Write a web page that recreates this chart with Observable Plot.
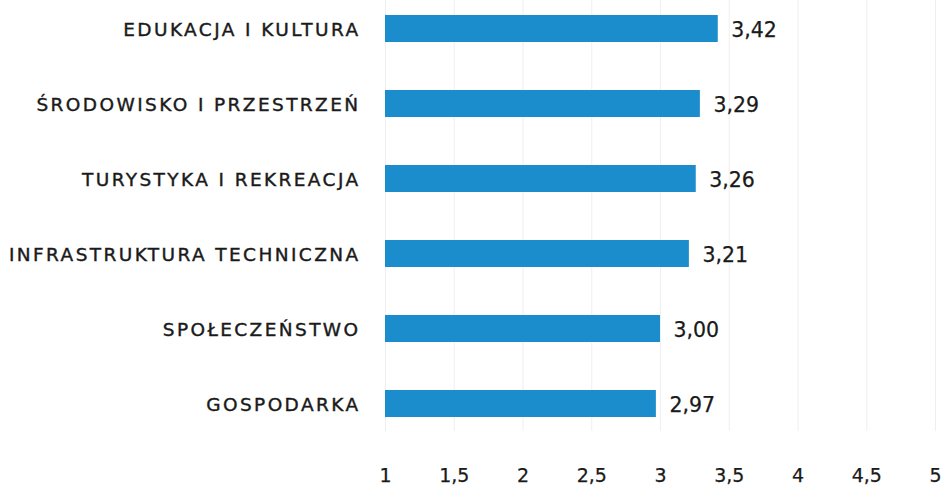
<!DOCTYPE html>
<html><head><meta charset="utf-8">
<script src="https://cdn.jsdelivr.net/npm/d3@7"></script>
<script src="https://cdn.jsdelivr.net/npm/@observablehq/plot@0.6"></script>
<style>
body{margin:0;background:#fff}
g[aria-label="y-axis tick label"] text{letter-spacing:2.4px;stroke:#1a1a1a;stroke-width:0.4px}
g[aria-label="x-axis tick label"] text, g[aria-label="text"] text{stroke:#1a1a1a;stroke-width:0.25px}
</style>
</head><body><div id="chart"></div>
<script>
const categories = ["EDUKACJA I KULTURA","ŚRODOWISKO I PRZESTRZEŃ","TURYSTYKA I REKREACJA","INFRASTRUKTURA TECHNICZNA","SPOŁECZEŃSTWO","GOSPODARKA"];
const values = [3.42, 3.29, 3.26, 3.21, 3.00, 2.97];
const ticks = [1, 1.5, 2, 2.5, 3, 3.5, 4, 4.5, 5];
const data = categories.map((c, i) => ({category: c, value: values[i]}));
const fmt = v => v.toFixed(2).replace(".", ",");
const fmtTick = v => String(v).replace(".", ",");
const chart = Plot.plot({
  width: 948, height: 486,
  marginLeft: 385, marginRight: 13, marginTop: 0, marginBottom: 55,
  style: {fontFamily: "'DejaVu Sans', sans-serif", background: "#fff"},
  x: {domain: [1, 5], ticks: ticks, label: null},
  y: {domain: categories, paddingInner: 0.64, paddingOuter: 0.193, axis: null, label: null},
  marks: [
    Plot.ruleX(ticks, {x: d => d, y1: null, y2: null, stroke: "#efefef", strokeWidth: 1}),
    Plot.barX(data, {x1: 1, x2: "value", y: "category", fill: "#1b8dcd"}),
    Plot.text(data, {x: "value", y: "category", text: d => fmt(d.value), textAnchor: "start", dx: 13, dy: 1, fontSize: 20.5, fill: "#1a1a1a"}),
    Plot.axisY({label: null, tickSize: 0, tickPadding: 25, dy: 1, fontSize: 18.5, fill: "#1a1a1a"}),
    Plot.axisX(ticks, {label: null, tickSize: 0, tickPadding: 37, fontSize: 19, tickFormat: fmtTick, fill: "#1a1a1a"})
  ]
});
document.getElementById("chart").append(chart);
</script></body></html>
